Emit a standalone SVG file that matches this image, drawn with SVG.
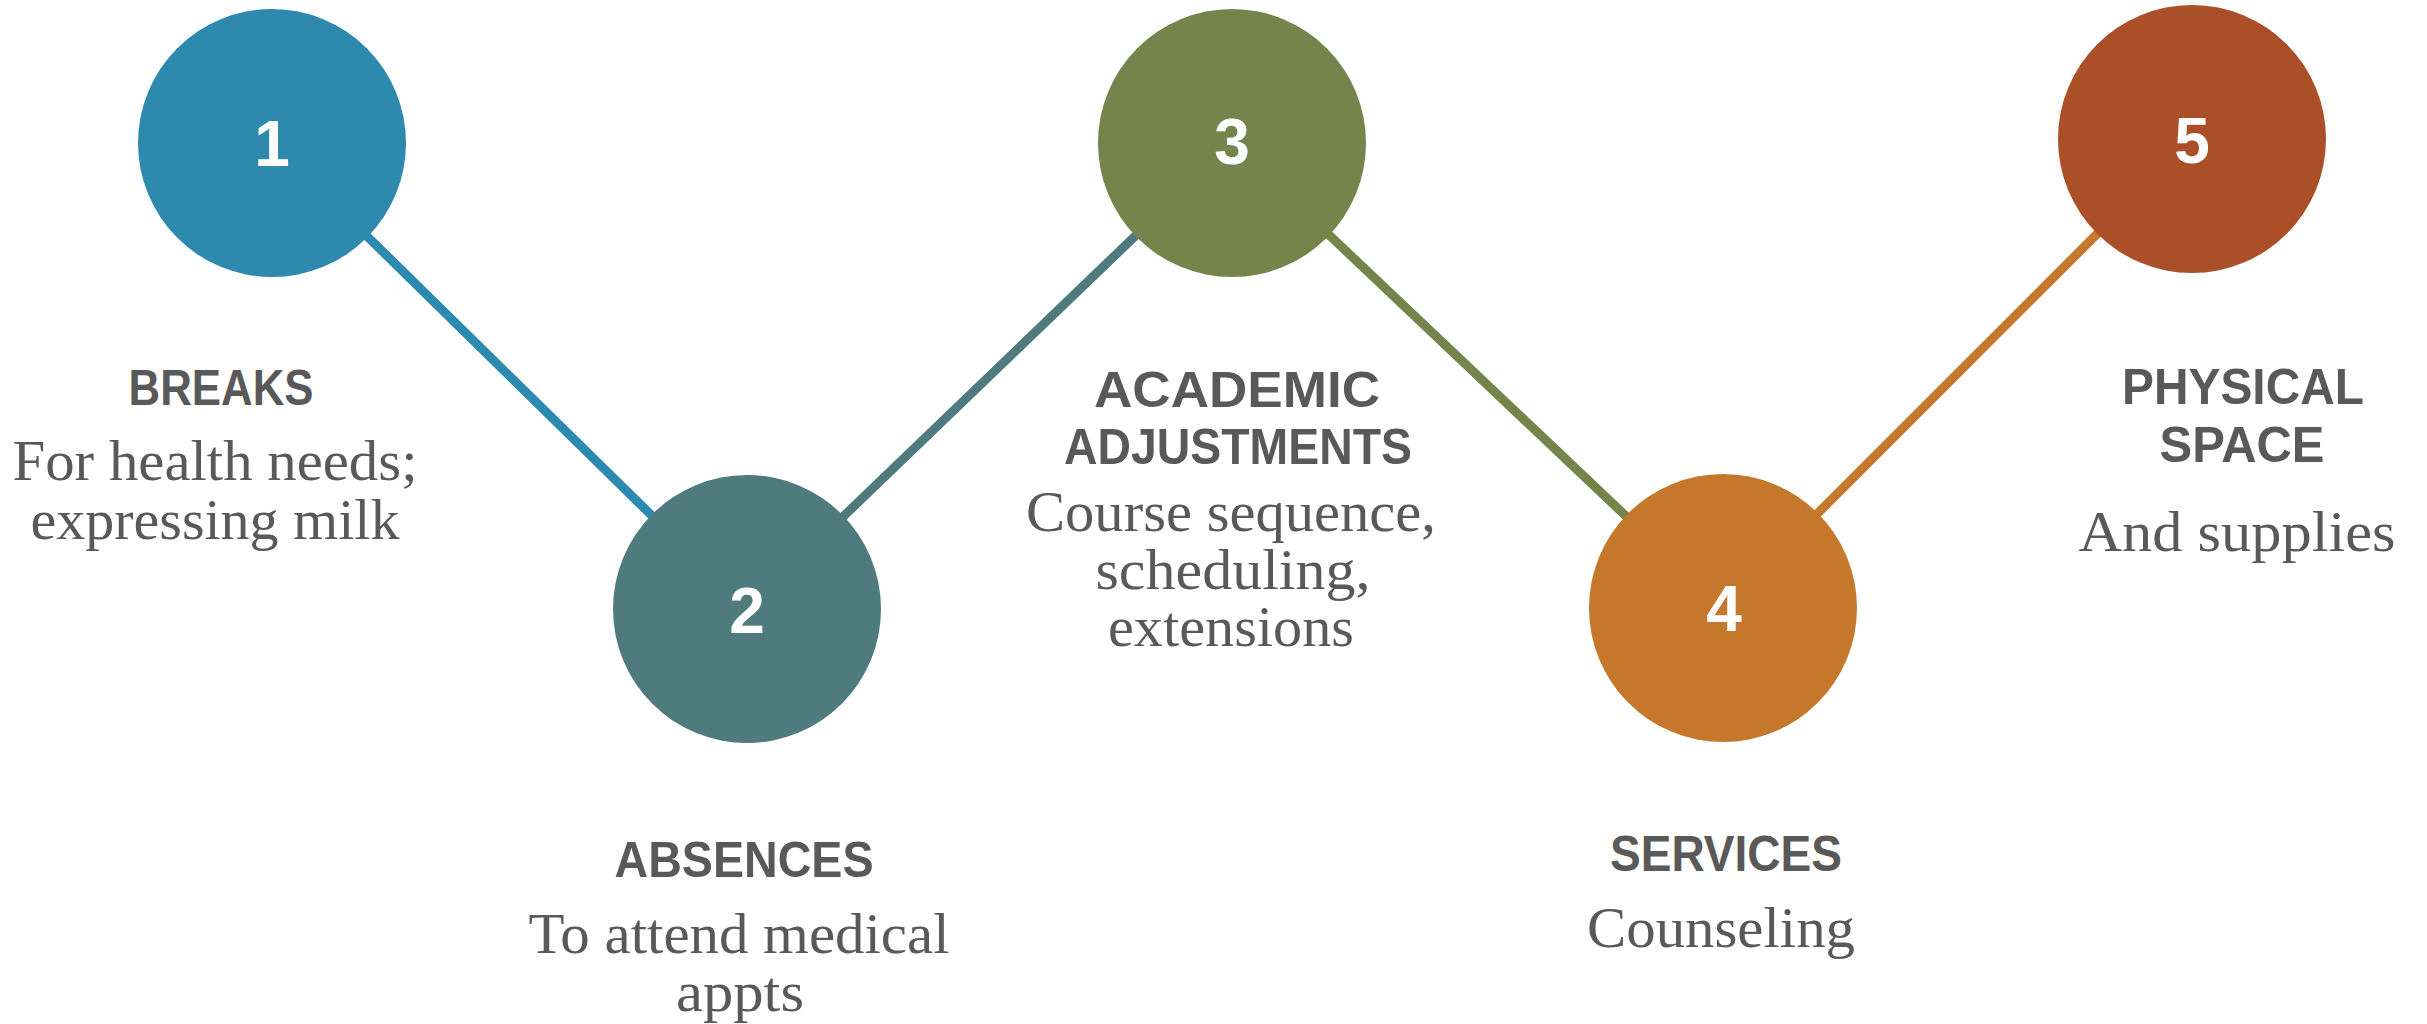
<svg xmlns="http://www.w3.org/2000/svg" width="2427" height="1024" viewBox="0 0 2427 1024">
<style>
.num{font-family:"Liberation Sans",Arial,sans-serif;font-weight:bold;font-size:64px;fill:#FFFFFF;text-anchor:middle}
.head{font-family:"Liberation Sans",Arial,sans-serif;font-weight:bold;font-size:50px;fill:#595959;text-anchor:middle}
.sub{font-family:"Liberation Serif","Times New Roman",serif;font-size:56px;fill:#595959;text-anchor:middle}
.conn{stroke-width:9;fill:none}
</style>
<rect width="2427" height="1024" fill="#FFFFFF"/>
<g id="connectors">
<line class="conn" x1="272" y1="143" x2="747" y2="609" stroke="#2C89B0"/>
<line class="conn" x1="747" y1="609" x2="1232" y2="143" stroke="#4F7A7E"/>
<line class="conn" x1="1232" y1="143" x2="1723" y2="608" stroke="#74844A"/>
<line class="conn" x1="1723" y1="608" x2="2192" y2="139" stroke="#C5772C"/>
</g>
<g id="node1">
<circle cx="272" cy="143" r="134" fill="#2E89AF"/>
<text class="num" x="272" y="166">1</text>
<text class="head" x="221" y="405" textLength="185" lengthAdjust="spacingAndGlyphs">BREAKS</text>
<text class="sub" x="215" y="480" textLength="405" lengthAdjust="spacingAndGlyphs">For health needs;</text>
<text class="sub" x="215" y="539" textLength="369" lengthAdjust="spacingAndGlyphs">expressing milk</text>
</g>
<g id="node2">
<circle cx="747" cy="609" r="134" fill="#4F7A7E"/>
<text class="num" x="747" y="633">2</text>
<text class="head" x="744" y="877" textLength="259" lengthAdjust="spacingAndGlyphs">ABSENCES</text>
<text class="sub" x="739" y="953" textLength="421" lengthAdjust="spacingAndGlyphs">To attend medical</text>
<text class="sub" x="740" y="1011" textLength="128" lengthAdjust="spacingAndGlyphs">appts</text>
</g>
<g id="node3">
<circle cx="1232" cy="143" r="134" fill="#74844A"/>
<text class="num" x="1232" y="164">3</text>
<text class="head" x="1237" y="407" textLength="286" lengthAdjust="spacingAndGlyphs">ACADEMIC</text>
<text class="head" x="1238" y="464" textLength="348" lengthAdjust="spacingAndGlyphs">ADJUSTMENTS</text>
<text class="sub" x="1231" y="531" textLength="410" lengthAdjust="spacingAndGlyphs">Course sequence,</text>
<text class="sub" x="1233" y="589" textLength="275" lengthAdjust="spacingAndGlyphs">scheduling,</text>
<text class="sub" x="1231" y="646" textLength="246" lengthAdjust="spacingAndGlyphs">extensions</text>
</g>
<g id="node4">
<circle cx="1723" cy="608" r="134" fill="#C5772C"/>
<text class="num" x="1724" y="631">4</text>
<text class="head" x="1726" y="871" textLength="232" lengthAdjust="spacingAndGlyphs">SERVICES</text>
<text class="sub" x="1721" y="947" textLength="268" lengthAdjust="spacingAndGlyphs">Counseling</text>
</g>
<g id="node5">
<circle cx="2192" cy="139" r="134" fill="#AA4F28"/>
<text class="num" x="2192" y="163">5</text>
<text class="head" x="2243" y="404" textLength="242" lengthAdjust="spacingAndGlyphs">PHYSICAL</text>
<text class="head" x="2242" y="462" textLength="165" lengthAdjust="spacingAndGlyphs">SPACE</text>
<text class="sub" x="2237" y="551" textLength="317" lengthAdjust="spacingAndGlyphs">And supplies</text>
</g>
</svg>
